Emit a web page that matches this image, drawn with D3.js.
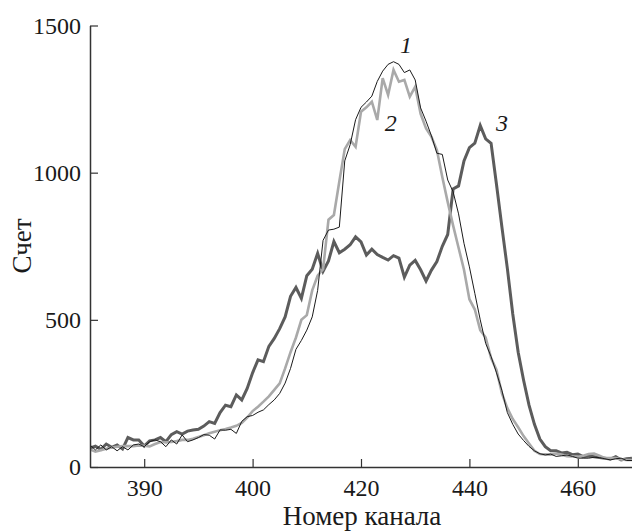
<!DOCTYPE html>
<html>
<head>
<meta charset="utf-8">
<script src="https://d3js.org/d3.v7.min.js"></script>
<style>
body { margin: 0; background: #fff; }
</style>
</head>
<body>
<script>
var width = 632, height = 531;

// channel numbers (x) and counts for the three spectra
var channels = [
  370, 371, 372, 373, 374, 375, 376, 377, 378, 379,
  380, 381, 382, 383, 384, 385, 386, 387, 388, 389,
  390, 391, 392, 393, 394, 395, 396, 397, 398, 399,
  400, 401, 402, 403, 404, 405, 406, 407, 408, 409,
  410, 411, 412, 413, 414, 415, 416, 417, 418, 419,
  420, 421, 422, 423, 424, 425, 426, 427, 428, 429,
  430, 431, 432, 433, 434, 435, 436, 437, 438, 439,
  440, 441, 442, 443, 444, 445, 446, 447, 448, 449,
  450, 451, 452, 453, 454, 455, 456, 457, 458, 459,
  460, 461, 462, 463, 464, 465, 466, 467, 468, 469, 470];

var curve1 = [
  75, 58, 75, 58, 69, 55, 69, 58, 75, 78,
  69, 86, 92, 86, 69, 92, 78, 109, 86, 92,
  100, 110, 108, 95, 126, 125, 128, 114, 155, 171,
  175, 186, 194, 212, 228, 250, 285, 335, 400, 430,
  465, 510, 600, 770, 805, 808, 815, 1040, 1095, 1180,
  1222, 1240, 1260, 1310, 1345, 1368, 1377, 1368, 1340, 1349,
  1315, 1220, 1175, 1125, 1066, 1062, 975, 935, 860, 760,
  680, 590, 500, 420, 375, 320, 260, 185, 145, 112,
  90, 70, 55, 45, 41, 44, 36, 38, 41, 36,
  30, 30, 30, 33, 32, 28, 24, 28, 30, 22, 22];

var curve2 = [
  60, 52, 57, 62, 66, 69, 71, 71, 71, 73,
  72, 70, 78, 85, 84, 85, 88, 92, 92, 96,
  102, 108, 115, 120, 125, 129, 134, 140, 150, 168,
  190, 205, 222, 240, 262, 284, 335, 390, 440, 500,
  516, 600, 650, 672, 840, 856, 970, 1080, 1111, 1088,
  1207, 1222, 1241, 1179, 1321, 1264, 1349, 1309, 1315, 1258,
  1292, 1200, 1150, 1122, 1077, 985, 900, 820, 745, 670,
  570, 535, 465, 440, 370, 330, 250, 200, 163, 135,
  105, 80, 55, 44, 43, 42, 46, 42, 37, 36,
  35, 38, 44, 46, 38, 30, 30, 30, 26, 24, 24];

var curve3 = [
  64, 71, 60, 78, 67, 75, 61, 100, 92, 92,
  71, 89, 92, 100, 86, 110, 120, 112, 122, 126,
  128, 139, 154, 148, 185, 210, 205, 245, 228, 267,
  320, 364, 358, 410, 437, 470, 510, 580, 610, 573,
  650, 672, 726, 665, 700, 766, 728, 740, 755, 782,
  765, 720, 740, 722, 712, 703, 718, 710, 645, 686,
  702, 670, 632, 669, 698, 750, 790, 945, 955, 1040,
  1085, 1100, 1160, 1115, 1100, 960, 815, 675, 520, 390,
  295, 210, 145, 95, 69, 55, 55, 48, 50, 42,
  44, 35, 37, 35, 32, 30, 27, 35, 24, 28, 30];

var yTicks = [0, 500, 1000, 1500];
var xTicks = [380, 400, 420, 440, 460];
var xTickLabels = ["390", "400", "420", "440", "460"];

var series = [
  {name: "3", values: curve3, color: "#5c5c5c", width: 3},
  {name: "2", values: curve2, color: "#a9a9a9", width: 2.6},
  {name: "1", values: curve1, color: "#1a1a1a", width: 1}
];

// curve numbers placed next to the peaks (channel, count)
var marks = [
  {text: "1", ch: 428.3, v: 1407},
  {text: "2", ch: 425.5, v: 1142},
  {text: "3", ch: 446, v: 1142}
];

var font = "'Liberation Serif', 'DejaVu Serif', serif";

var svg = d3.select("body").append("svg")
  .attr("width", width).attr("height", height);

var x = d3.scaleLinear().domain([370, 470]).range([90, 632]);
var y = d3.scaleLinear().domain([0, 1500]).range([467, 25.5]);

svg.append("clipPath").attr("id", "plot")
  .append("rect").attr("x", 90).attr("y", 0).attr("width", 542).attr("height", 470);

var line = function(vals) {
  return d3.line()
    .x(function(d, i) { return x(channels[i]); })
    .y(function(d) { return y(d); })(vals);
};

svg.append("g").attr("clip-path", "url(#plot)")
  .selectAll("path")
  .data(series)
  .join("path")
  .attr("d", function(d) { return line(d.values); })
  .attr("fill", "none")
  .attr("stroke", function(d) { return d.color; })
  .attr("stroke-width", function(d) { return d.width; });

// axes, ticks pointing inward
var xAxis = svg.append("g")
  .attr("transform", "translate(0," + y(0) + ")")
  .call(d3.axisBottom(x).tickValues(xTicks)
    .tickFormat(function(d, i) { return xTickLabels[i]; })
    .tickSizeInner(-8).tickSizeOuter(0).tickPadding(12));

var yAxis = svg.append("g")
  .attr("transform", "translate(" + x(370) + ",0)")
  .call(d3.axisLeft(y).tickValues(yTicks).tickFormat(d3.format("d"))
    .tickSizeInner(-8).tickSizeOuter(0).tickPadding(9));

[xAxis, yAxis].forEach(function(g) {
  g.attr("font-family", font).attr("font-size", 24);
  g.selectAll("text").attr("fill", "#1a1a1a");
  g.selectAll("line").attr("stroke", "#333").attr("stroke-width", 1.2);
  g.select(".domain").attr("stroke", "#333").attr("stroke-width", 1.5);
});

svg.append("text")
  .attr("x", 362).attr("y", 525)
  .attr("text-anchor", "middle")
  .attr("font-family", font).attr("font-size", 27).attr("fill", "#1a1a1a")
  .text("Номер канала");

svg.append("text")
  .attr("transform", "translate(31,246) rotate(-90)")
  .attr("text-anchor", "middle")
  .attr("font-family", font).attr("font-size", 27).attr("fill", "#1a1a1a")
  .text("Счет");

svg.selectAll(".mark")
  .data(marks)
  .join("text")
  .attr("class", "mark")
  .attr("x", function(d) { return x(d.ch); })
  .attr("y", function(d) { return y(d.v); })
  .attr("text-anchor", "middle")
  .attr("font-family", font).attr("font-style", "italic")
  .attr("font-size", 24).attr("fill", "#1a1a1a")
  .text(function(d) { return d.text; });
</script>
</body>
</html>
